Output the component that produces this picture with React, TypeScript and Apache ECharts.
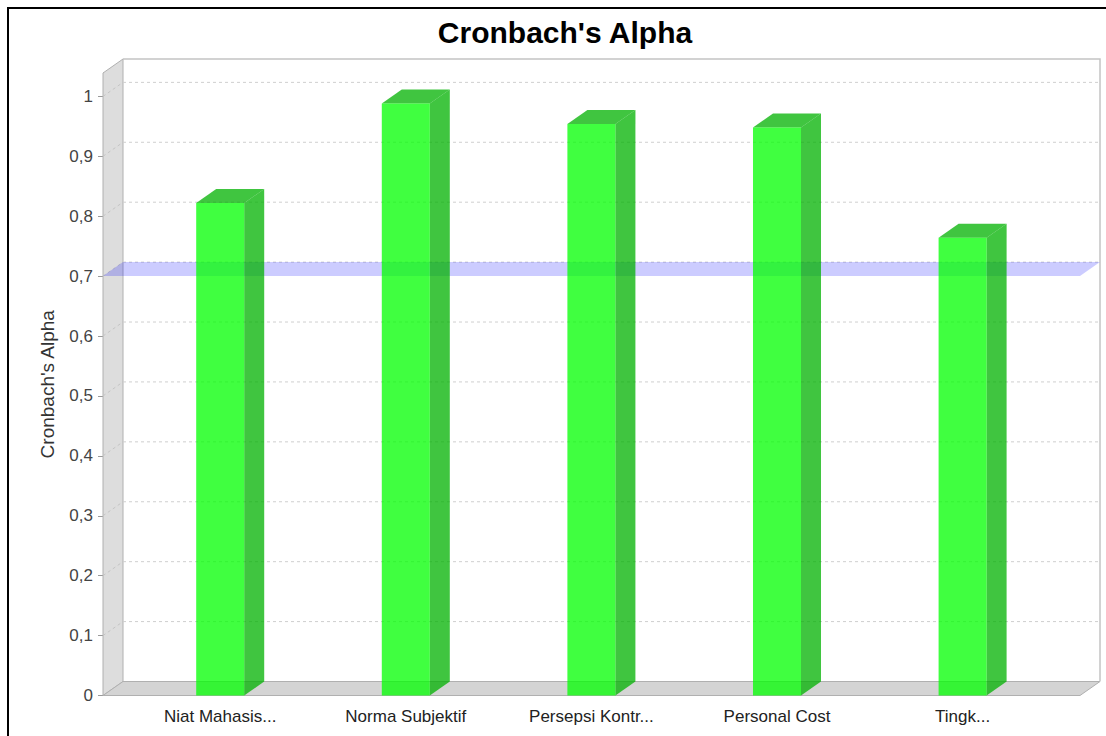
import React, { useEffect, useRef } from "react";
import * as echarts from "echarts";

// ---- data ----
const categories = ["Niat Mahasis...", "Norma Subjektif", "Persepsi Kontr...", "Personal Cost", "Tingk..."];
const alphaValues = [0.822, 0.988, 0.954, 0.948, 0.764];
const thresholdValue = 0.7;
const yTicks = [0, 0.1, 0.2, 0.3, 0.4, 0.5, 0.6, 0.7, 0.8, 0.9, 1];
const Y_MAX = 1.039;

// ---- 3D look ----
const DX = 20;
const DY = 14;
const BAR_FRACTION = 0.2587;
const FONT = "'Liberation Sans', Arial, sans-serif";

const fmt = (v: number) => String(Math.round(v * 10) / 10).replace(".", ",");

export default function App() {
  const ref = useRef<HTMLDivElement>(null);

  useEffect(() => {
    if (!ref.current) return;
    const chart = echarts.init(ref.current, undefined, { renderer: "svg" });

    const wallsRender = (params: any, api: any) => {
      const [xl, yb] = api.coord([0, 0]);
      const [xr, yt] = api.coord([1, Y_MAX]);
      const children: any[] = [];
      children.push({
        type: "polygon",
        shape: { points: [[xl, yt], [xl + DX, yt - DY], [xl + DX, yb - DY], [xl, yb]] },
        style: { fill: "#dddddd", stroke: "#b0b0b0", lineWidth: 1 },
      });
      children.push({
        type: "polygon",
        shape: { points: [[xl, yb], [xr, yb], [xr + DX, yb - DY], [xl + DX, yb - DY]] },
        style: { fill: "#d4d4d4", stroke: "#b0b0b0", lineWidth: 1 },
      });
      children.push({
        type: "polyline",
        shape: { points: [[xl + DX, yt - DY], [xr + DX, yt - DY], [xr + DX, yb - DY]] },
        style: { stroke: "#c4c4c4", lineWidth: 1.5, fill: null },
      });
      yTicks.forEach((v) => {
        if (v === 0) return;
        const y = api.coord([0, v])[1];
        children.push({
          type: "line",
          shape: { x1: xl + DX, y1: y - DY, x2: xr + DX, y2: y - DY },
          style: { stroke: "#cfcfcf", lineWidth: 1, lineDash: [3, 3] },
        });
        children.push({
          type: "line",
          shape: { x1: xl, y1: y, x2: xl + DX, y2: y - DY },
          style: { stroke: "#c4c4c4", lineWidth: 1, lineDash: [3, 3] },
        });
      });
      return { type: "group", children };
    };

    const bandRender = (params: any, api: any) => {
      const v = api.value(0);
      const xl = api.coord([0, v])[0];
      const xr = api.coord([1, v])[0];
      const y = api.coord([0, v])[1];
      return {
        type: "polygon",
        shape: { points: [[xl, y], [xr, y], [xr + DX, y - DY], [xl + DX, y - DY]] },
        style: { fill: "rgba(0,0,255,0.2)" },
      };
    };

    const barRender = (params: any, api: any) => {
      const idx = api.value(0);
      const val = api.value(1);
      const top = api.coord([idx, val]);
      const base = api.coord([idx, 0]);
      const bw = api.size([1, 0])[0] * BAR_FRACTION;
      const xl = top[0] - bw / 2;
      const xr = top[0] + bw / 2;
      const yv = top[1];
      const y0 = base[1];
      const front = "rgba(0,255,0,0.75)";
      const dark = "rgba(0,178,0,0.75)";
      return {
        type: "group",
        children: [
          {
            type: "polygon",
            shape: { points: [[xr, yv], [xr + DX, yv - DY], [xr + DX, y0 - DY], [xr, y0]] },
            style: { fill: dark },
          },
          {
            type: "polygon",
            shape: { points: [[xl, yv], [xl + DX, yv - DY], [xr + DX, yv - DY], [xr, yv]] },
            style: { fill: dark },
          },
          {
            type: "rect",
            shape: { x: xl, y: yv, width: bw, height: y0 - yv },
            style: { fill: front },
          },
        ],
      };
    };

    chart.setOption({
      animation: false,
      backgroundColor: "transparent",
      title: {
        text: "Cronbach's Alpha",
        left: 560,
        textAlign: "center",
        top: 12,
        textStyle: { fontFamily: FONT, fontSize: 30, fontWeight: "bold", color: "#000" },
      },
      grid: [
        { left: 103, right: 26, top: 73, bottom: 40.5 },
        { left: 127.4, right: 50.6, top: 73, bottom: 40.5 },
      ],
      xAxis: [
        { type: "value", gridIndex: 0, min: 0, max: 1, show: false },
        {
          type: "category",
          gridIndex: 1,
          data: categories,
          axisLine: { show: false },
          axisTick: { show: false },
          splitLine: { show: false },
          axisLabel: { interval: 0, fontFamily: FONT, fontSize: 17, color: "#222", margin: 12 },
        },
      ],
      yAxis: [
        {
          type: "value",
          gridIndex: 0,
          min: 0,
          max: Y_MAX,
          interval: 0.1,
          name: "Cronbach's Alpha",
          nameLocation: "middle",
          nameGap: 46,
          nameTextStyle: { fontFamily: FONT, fontSize: 19, color: "#333" },
          axisLine: { show: true, lineStyle: { color: "#9a9a9a" } },
          axisTick: { show: true, length: 5, lineStyle: { color: "#9a9a9a" } },
          splitLine: { show: false },
          axisLabel: {
            fontFamily: FONT,
            fontSize: 17,
            color: "#444",
            margin: 10,
            showMaxLabel: false,
            formatter: (v: number) => fmt(v),
          },
        },
        { type: "value", gridIndex: 1, min: 0, max: Y_MAX, show: false },
      ],
      series: [
        {
          type: "custom",
          name: "walls",
          xAxisIndex: 0,
          yAxisIndex: 0,
          z: 1,
          silent: true,
          data: [[0]],
          renderItem: wallsRender,
        },
        {
          type: "custom",
          name: "threshold",
          xAxisIndex: 0,
          yAxisIndex: 0,
          z: 2,
          silent: true,
          data: [[thresholdValue]],
          encode: { y: 0 },
          renderItem: bandRender,
        },
        {
          type: "custom",
          name: "Cronbach's Alpha",
          xAxisIndex: 1,
          yAxisIndex: 1,
          z: 3,
          data: alphaValues.map((v, i) => [i, v]),
          encode: { x: 0, y: 1 },
          renderItem: barRender,
        },
      ],
    });

    return () => chart.dispose();
  }, []);

  return (
    <>
      <div
        style={{
          position: "fixed",
          left: 7,
          top: 7,
          width: 1200,
          height: 800,
          border: "2px solid #000",
          background: "#fff",
        }}
      />
      <div ref={ref} style={{ position: "fixed", left: 0, top: 0, width: 1106, height: 736 }} />
    </>
  );
}
